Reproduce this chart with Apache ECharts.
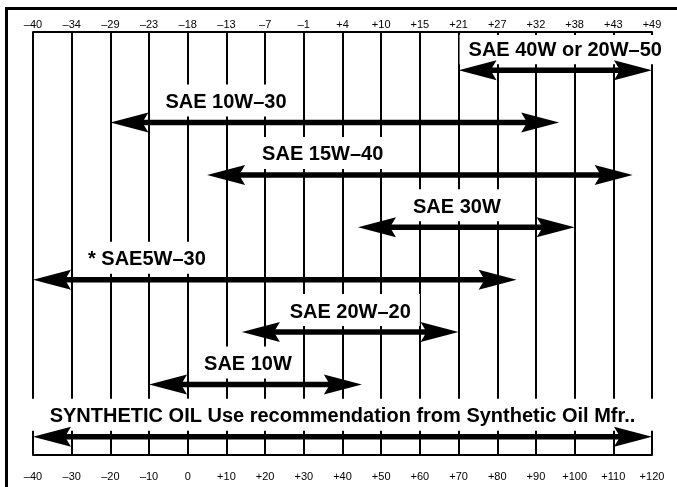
<!DOCTYPE html>
<html>
<head>
<meta charset="utf-8">
<script src="https://cdn.jsdelivr.net/npm/echarts@6/dist/echarts.min.js"></script>
<style>
  html, body { margin: 0; padding: 0; background: #fff; }
  #chart { width: 677px; height: 487px; }
</style>
</head>
<body>
<div id="chart"></div>
<script>
// Ambient temperature tick labels: °F along the bottom, matching °C along the top
const fahrenheitTicks = ['–40', '–30', '–20', '–10', '0', '+10', '+20', '+30', '+40', '+50', '+60', '+70', '+80', '+90', '+100', '+110', '+120'];
const celsiusTicks = ['–40', '–34', '–29', '–23', '–18', '–13', '–7', '–1', '+4', '+10', '+15', '+21', '+27', '+32', '+38', '+43', '+49'];

// Oil grades and the temperature range (°F) each one covers
const grades = [
  'SAE 40W or 20W–50',
  'SAE 10W–30',
  'SAE 15W–40',
  'SAE 30W',
  '* SAE5W–30',
  'SAE 20W–20',
  'SAE 10W',
  'SYNTHETIC OIL Use recommendation from Synthetic Oil Mfr..'
];
const lowF = [70, -20, 5, 44, -40, 14, -10, -40];
const highF = [120, 96, 115, 100, 85, 70, 45, 120];

const F_MIN = -40, F_MAX = 120, F_STEP = 10;
const LABEL_FONT = 'bold 20px "Liberation Sans", Arial, Helvetica, sans-serif';
const TICK_FONT = '"Liberation Sans", Arial, Helvetica, sans-serif';

const measureCtx = document.createElement('canvas').getContext('2d');
function textWidth(str) {
  measureCtx.font = LABEL_FONT;
  return measureCtx.measureText(str).width;
}

// Where a grade's caption sits above its arrow
function captionLayout(x1, x2, text) {
  const w = textWidth(text);
  const span = x2 - x1;
  let left;
  if (w + 110 <= span) {
    left = x1 + 55;
  } else {
    left = (x1 + x2) / 2 - w / 2;
  }
  left = Math.max(left, x1 + 10);
  if (left + w > x2 - 10) left = Math.max(x1 + 10, x2 - 10 - w);
  const fullWidth = span > 500 && w + 110 > span;
  return { left, w, fullWidth };
}

function rowData() {
  return grades.map((g, i) => [lowF[i], highF[i], i]);
}

// White panel behind each caption so the temperature lines break around it
function renderPanel(params, api) {
  const row = api.value(2);
  const a = api.coord([api.value(0), row]);
  const b = api.coord([api.value(1), row]);
  const y = a[1];
  const text = grades[params.dataIndex];
  const lay = captionLayout(a[0], b[0], text);
  const x0 = lay.fullWidth ? a[0] - 4 : lay.left - 9;
  const x1 = lay.fullWidth ? b[0] + 4 : lay.left + lay.w + 9;
  const top = Math.max(y - 38, 35);
  return {
    type: 'rect',
    shape: { x: x0, y: top, width: x1 - x0, height: (y - 6) - top },
    style: { fill: '#fff' }
  };
}

// Double-headed arrow spanning the grade's range, with its caption
function renderArrow(params, api) {
  const row = api.value(2);
  const a = api.coord([api.value(0), row]);
  const b = api.coord([api.value(1), row]);
  const y = a[1];
  const L = 38, W = 10;
  const head = (tip, dir) => ({
    type: 'polygon',
    shape: { points: [[tip, y], [tip + dir * L, y - W], [tip + dir * (L - 6), y], [tip + dir * L, y + W]] },
    style: { fill: '#000' }
  });
  const text = grades[params.dataIndex];
  const lay = captionLayout(a[0], b[0], text);
  return {
    type: 'group',
    children: [
      {
        type: 'line',
        shape: { x1: a[0] + 20, y1: y, x2: b[0] - 20, y2: y },
        style: { stroke: '#000', lineWidth: 5.5 }
      },
      head(a[0], 1),
      head(b[0], -1),
      {
        type: 'text',
        style: {
          text: text,
          x: lay.left,
          y: y - 20,
          font: LABEL_FONT,
          fill: '#000',
          align: 'left',
          verticalAlign: 'middle'
        }
      }
    ]
  };
}

const tickIndex = v => Math.round((v - F_MIN) / F_STEP);

const chart = echarts.init(document.getElementById('chart'), null, { renderer: 'canvas' });
chart.setOption({
  backgroundColor: '#fff',
  animation: false,
  grid: [
    { left: 33, right: 25, top: 32, bottom: 32 },
    { left: 33, right: 25, top: 44, bottom: 24 }
  ],
  xAxis: [
    {
      gridIndex: 0, type: 'value', position: 'bottom',
      min: F_MIN, max: F_MAX, interval: F_STEP,
      axisLine: { show: true, lineStyle: { color: '#000', width: 2 } },
      axisTick: { show: false },
      splitLine: { show: true, lineStyle: { color: '#000', width: 2 } },
      axisLabel: {
        margin: 16, color: '#000', fontSize: 11, fontFamily: TICK_FONT,
        formatter: v => fahrenheitTicks[tickIndex(v)]
      }
    },
    {
      gridIndex: 0, type: 'value', position: 'top',
      min: F_MIN, max: F_MAX, interval: F_STEP,
      axisLine: { show: true, lineStyle: { color: '#000', width: 2 } },
      axisTick: { show: false },
      splitLine: { show: false },
      axisLabel: {
        margin: 2, color: '#000', fontSize: 11, fontFamily: TICK_FONT,
        formatter: v => celsiusTicks[tickIndex(v)]
      }
    },
    {
      gridIndex: 1, type: 'value', show: false,
      min: F_MIN, max: F_MAX, interval: F_STEP
    }
  ],
  yAxis: [
    { gridIndex: 0, type: 'value', show: false, min: 0, max: 1 },
    { gridIndex: 1, type: 'category', show: false, inverse: true, data: grades }
  ],
  graphic: [
    { type: 'rect', shape: { x: 5, y: 7, width: 672, height: 3 }, style: { fill: '#000' } },
    { type: 'rect', shape: { x: 5, y: 7, width: 3, height: 480 }, style: { fill: '#000' } }
  ],
  series: [
    {
      type: 'custom', name: 'panels', xAxisIndex: 2, yAxisIndex: 1,
      z: 2, clip: false, silent: true,
      renderItem: renderPanel,
      encode: { x: [0, 1], y: 2 },
      data: rowData()
    },
    {
      type: 'custom', name: 'grades', xAxisIndex: 2, yAxisIndex: 1,
      z: 3, clip: false, silent: true,
      renderItem: renderArrow,
      encode: { x: [0, 1], y: 2 },
      data: rowData()
    }
  ]
});
</script>
</body>
</html>
